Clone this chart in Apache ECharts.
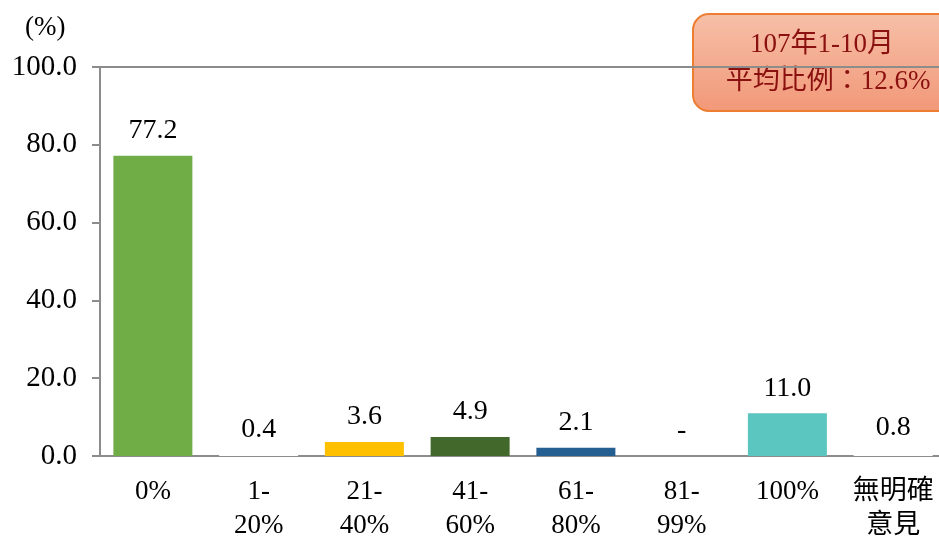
<!DOCTYPE html>
<html>
<head>
<meta charset="utf-8">
<style>
  html, body { margin: 0; padding: 0; background: #fff; }
  #chart { width: 939px; height: 544px; }
</style>
<script src="https://cdn.jsdelivr.net/npm/echarts@6/dist/echarts.min.js"></script>
</head>
<body>
<div id="chart"></div>
<script>
// 資料
const categories = ['0%', '1-\n20%', '21-\n40%', '41-\n60%', '61-\n80%', '81-\n99%', '100%', '無明確\n意見'];
const values = [77.2, 0.4, 3.6, 4.9, 2.1, 0, 11.0, 0.8];
const barColors = ['#70ad47', '#ffffff', '#ffc000', '#43682b', '#255e91', '#ffffff', '#5bc5bf', '#ffffff'];
const yTicks = { min: 0, max: 100, interval: 20 };
const unitLabel = '(%)';
const noteLines = ['107年1-10月', '平均比例：12.6%'];

const serif = '"Liberation Serif", "Times New Roman", "Noto Sans CJK TC", serif';
const axisGray = '#8c8c8c';

const chart = echarts.init(document.getElementById('chart'));

chart.setOption({
  animation: false,
  grid: { left: 100, right: -7, top: 67, bottom: 88, outerBoundsMode: 'none' },
  xAxis: [
    {
      type: 'category',
      data: categories,
      axisLine: { lineStyle: { color: axisGray, width: 2 } },
      axisTick: { show: false },
      axisLabel: {
        color: '#000', fontFamily: serif, fontSize: 27, lineHeight: 34, margin: 19, interval: 0
      }
    },
    {
      // 上方框線
      type: 'category',
      position: 'top',
      data: categories,
      axisLine: { lineStyle: { color: axisGray, width: 2 } },
      axisTick: { show: false },
      axisLabel: { show: false }
    }
  ],
  yAxis: {
    type: 'value',
    min: yTicks.min, max: yTicks.max, interval: yTicks.interval,
    axisLine: { show: true, lineStyle: { color: axisGray, width: 2 } },
    axisTick: { show: true, length: 8, lineStyle: { color: axisGray, width: 2 } },
    splitLine: { show: false },
    axisLabel: {
      color: '#000', fontFamily: serif, fontSize: 29, margin: 23,
      formatter: function (v) { return v.toFixed(1); }
    }
  },
  series: [{
    type: 'bar',
    barWidth: 79,
    data: values.map(function (v, i) {
      return { value: v, itemStyle: { color: barColors[i] } };
    }),
    label: {
      show: true,
      position: 'top',
      distance: 11,
      color: '#000',
      fontFamily: serif,
      fontSize: 28,
      formatter: function (p) { return p.value === 0 ? '-' : p.value.toFixed(1); }
    }
  }],
  graphic: [
    {
      type: 'text', left: 25, top: 14,
      style: { text: unitLabel, font: '27px ' + serif, fill: '#000' }
    },
    {
      type: 'group', left: 692, top: 13,
      children: [
        {
          type: 'rect',
          shape: { x: 0, y: 0, width: 262, height: 97, r: 16 },
          style: {
            fill: new echarts.graphic.LinearGradient(0, 0, 0, 1, [
              { offset: 0, color: '#f6c0a8' },
              { offset: 1, color: '#f29878' }
            ]),
            stroke: '#ed7d31', lineWidth: 2
          }
        },
        {
          type: 'text', x: 129, y: 31,
          style: { text: noteLines[0], font: '27px ' + serif, fill: '#8b1010', align: 'center', verticalAlign: 'middle' }
        },
        {
          type: 'text', x: 135, y: 68,
          style: { text: noteLines[1], font: '27px ' + serif, fill: '#8b1010', align: 'center', verticalAlign: 'middle' }
        }
      ]
    }
  ]
});
</script>
</body>
</html>
